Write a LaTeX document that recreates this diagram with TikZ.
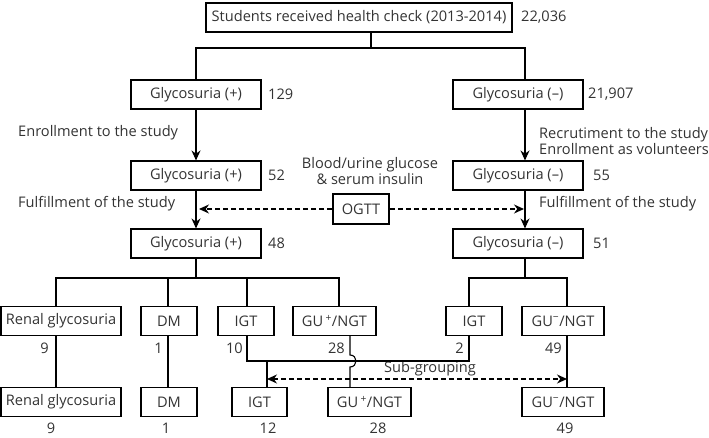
\documentclass[tikz,border=0pt]{standalone}
\usepackage{fontspec}
\setmainfont{Open Sans}
\usetikzlibrary{arrows.meta,calc}
\definecolor{txt}{gray}{0.2}
\begin{document}
\begin{tikzpicture}[x=1pt,y=-1pt,
  every node/.style={font=\fontsize{14.6}{15}\selectfont, text=txt},
  box/.style={draw=black, line width=1.1pt, minimum height=29pt, inner sep=0pt},
  num/.style={inner sep=0pt},
  conn/.style={draw=black, line width=1.1pt},
  arr/.style={conn, -{Stealth[length=10pt,width=9pt]}},
  dsh/.style={conn, dash pattern=on 5pt off 3pt}
]
\useasboundingbox (0,0) rectangle (709,438);

% helper coordinates (column lines and junction levels)
\coordinate (jT) at (371,48);
\coordinate (xR) at (525,0);
\coordinate (jL) at (196,278);
\coordinate (jR) at (525,278);
\coordinate (jM) at (0,361);
\coordinate (jS) at (0,379);
\coordinate (xa) at (56,0);
\coordinate (xb) at (168,0);
\coordinate (xc) at (247,0);
\coordinate (xd) at (339,0);
\coordinate (xe) at (469,0);
\coordinate (xf) at (567,0);
\coordinate (xg) at (350,0);
\coordinate (xh) at (267,0);

% boxes
\node[box, minimum width=306pt] (top) at (359,17.5) {Students received health check (2013-2014)};
\node[box, minimum width=130pt] (gp1) at (196,94.5) {Glycosuria (+)};
\node[box, minimum width=130pt] (gp2) at (196,175.5) {Glycosuria (+)};
\node[box, minimum width=130pt] (gp3) at (196,243.5) {Glycosuria (+)};
\node[box, minimum width=130pt] (gm1) at (518,94.5) {Glycosuria (\textendash)};
\node[box, minimum width=130pt] (gm2) at (518,175.5) {Glycosuria (\textendash)};
\node[box, minimum width=130pt] (gm3) at (518,243.5) {Glycosuria (\textendash)};
\node[box, line width=2pt, minimum width=56pt, minimum height=30pt] (ogtt) at (361,209) {OGTT};

\node[box, minimum width=120pt] (rg1) at (61,321) {Renal glycosuria};
\node[box, minimum width=56pt] (dm1) at (169,321) {DM};
\node[box, minimum width=56pt] (igt1) at (246,321) {IGT};
\node[box, minimum width=83pt] (gup1) at (334.5,321) {GU\,\textsuperscript{+}/NGT};
\node[box, minimum width=56pt] (igt2) at (474,321) {IGT};
\node[box, minimum width=82pt] (gum1) at (563,321) {GU\textsuperscript{\char"2212}/NGT};

\node[box, minimum width=120pt] (rg2) at (61,402) {Renal glycosuria};
\node[box, minimum width=56pt] (dm2) at (169,402) {DM};
\node[box, minimum width=55pt] (igt3) at (259.5,402) {IGT};
\node[box, minimum width=83pt] (gup2) at (369.5,402) {GU\,\textsuperscript{+}/NGT};
\node[box, minimum width=82pt] (gum2) at (563,402) {GU\textsuperscript{\char"2212}/NGT};

% counts
\node[num, anchor=west] (n0) at (521,17) {22,036};
\node[num, anchor=west] (n1) at (268,94) {129};
\node[num, anchor=west] (n2) at (588,94) {21,907};
\node[num, anchor=west] (n3) at (268,175) {52};
\node[num, anchor=west] (n4) at (593,175) {55};
\node[num, anchor=west] (n5) at (268,243) {48};
\node[num, anchor=west] (n6) at (593,243) {51};
\node[num, anchor=east] (r1a) at (49,348) {9};
\node[num, anchor=east] (r1b) at (163,348) {1};
\node[num, anchor=east] (r1c) at (243,348) {10};
\node[num, anchor=east] (r1d) at (345,348) {28};
\node[num, anchor=east] (r1e) at (464,348) {2};
\node[num, anchor=east] (r1f) at (562,348) {49};
\node[num] (r2a) at (51,428) {9};
\node[num] (r2b) at (166,428) {1};
\node[num] (r2c) at (268,428) {12};
\node[num] (r2d) at (378,428) {28};
\node[num] (r2e) at (565,428) {49};

% labels
\node[num, anchor=west] (l1) at (18,133) {Enrollment to the study};
\node[num, anchor=west, align=left, font=\fontsize{14.6}{16}\selectfont] (l2) at (539,141) {Recrutiment to the study\\Enrollment as volunteers};
\node[num, align=center, font=\fontsize{14.6}{14.5}\selectfont] (l3) at (370,171) {Blood/urine glucose\\\& serum insulin};
\node[num, anchor=west] (l4) at (18,204) {Fulfillment of the study};
\node[num, anchor=west] (l5) at (539,204) {Fulfillment of the study};
\node[num] (l6) at (430,369) {Sub-grouping};

% connectors: top level
\draw[conn] (top.south -| jT) -- (jT);
\draw[conn] (gp1.north) -- (gp1.north |- jT) -- (xR |- jT) -- (xR |- gm1.north);
\draw[arr] (gp1.south) -- (gp2.north);
\draw[arr] (gp2.south) -- (gp3.north);
\draw[arr] (xR |- gm1.south) -- (xR |- gm2.north);
\draw[arr] (xR |- gm2.south) -- (xR |- gm3.north);

% OGTT dashed arrows
\draw[dsh, -{Stealth[length=10pt,width=9pt]}, shorten >=3pt] (ogtt.west) -- (gp2.south |- ogtt.west);
\draw[dsh, -{Stealth[length=10pt,width=9pt]}, shorten >=1pt] (ogtt.east) -- (xR |- ogtt.east);

% left tree
\draw[conn] (gp3.south) -- (jL);
\draw[conn] (xa |- rg1.north) -- (xa |- jL) -- (xd |- jL) -- (xd |- gup1.north);
\draw[conn] (xb |- jL) -- (xb |- dm1.north);
\draw[conn] (xc |- jL) -- (xc |- igt1.north);
% right tree
\draw[conn] (gm3.south -| xR) -- (jR);
\draw[conn] (xe |- igt2.north) -- (xe |- jR) -- (xf |- jR) -- (xf |- gum1.north);

% row 1 to row 2
\draw[conn] (xa |- rg1.south) -- (xa |- rg2.north);
\draw[conn] (xb |- dm1.south) -- (xb |- dm2.north);
\draw[conn] (xc |- igt1.south) -- (xc |- jM) -- (xe |- jM) -- (xe |- igt2.south);
\draw[conn] (xh |- jM) -- (xh |- igt3.north);
\draw[conn] (xg |- gup1.south) -- ($(xg |- jM)+(0,-6)$) .. controls ($(xg |- jM)+(8,-6)$) and ($(xg |- jM)+(8,6)$) .. ($(xg |- jM)+(0,6)$) -- (xg |- gup2.north);
\draw[conn] (xf |- gum1.south) -- (xf |- gum2.north);

% sub-grouping
\draw[dsh, {Stealth[length=10pt,width=9pt]}-{Stealth[length=10pt,width=9pt]}] (xh |- jS) -- (xf |- jS);
\end{tikzpicture}
\end{document}
